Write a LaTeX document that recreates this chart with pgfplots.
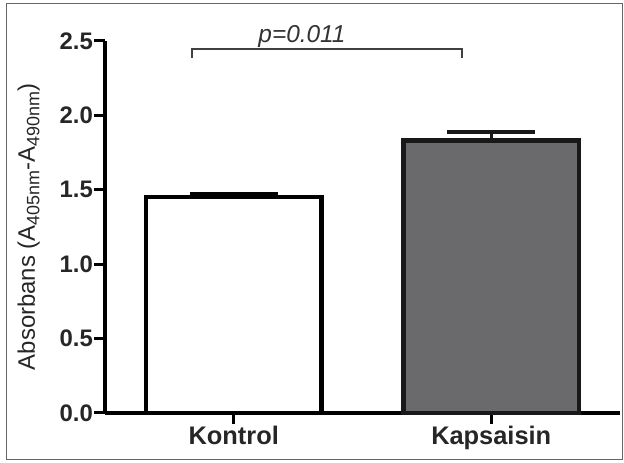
\documentclass[border=0pt]{standalone}
\usepackage{pgfplots}
\pgfplotsset{compat=1.18}
\usepackage{fontspec}
\setmainfont{Liberation Sans}
\definecolor{bargray}{RGB}{106,106,108}
\newcommand{\sub}[1]{\raisebox{-4.5bp}{\fontsize{18}{18}\selectfont #1}}
\begin{document}
\begin{tikzpicture}[x=1bp,y=1bp]
\useasboundingbox (0,0) rectangle (624,463);
\draw[black!60, line width=1bp] (6,3) rectangle (622,459);
\begin{axis}[
  at={(105bp,50bp)}, anchor=south west,
  scale only axis, width=515bp, height=372bp,
  xmin=-0.5, xmax=1.5, ymin=0, ymax=2.5,
  axis lines*=left,
  axis line style={-, line width=3.5bp, black},
  xtick={0,1}, xticklabels={Kontrol,Kapsaisin},
  ytick={0,0.5,1,1.5,2,2.5},
  /pgf/number format/fixed, /pgf/number format/fixed zerofill,
  /pgf/number format/precision=1, /pgf/number format/assume math mode=true,
  tick align=outside, major tick length=11bp,
  tick style={line width=3bp, black},
  x tick label style={font=\fontsize{25.5}{25.5}\selectfont\bfseries, text=black!85, inner sep=2bp},
  y tick label style={font=\fontsize{24}{24}\selectfont\bfseries, text=black!85, inner sep=1bp},
  every axis y label/.style={at={(axis description cs:-0.148,0.5)}, rotate=90, anchor=center},
  ylabel={Absorbans (A\sub{405nm}-A\sub{490nm})},
  ylabel style={font=\fontsize{24}{24}\selectfont, text=black!85},
  clip=false,
]
\addplot[ybar, bar width=0.68, bar shift=0pt, draw=black, line width=4.5bp, fill=white,
  error bars/.cd, y dir=plus, y explicit,
  error bar style={line width=4bp, black},
  error mark options={rotate=90, mark size=44bp, line width=4bp, black}]
  coordinates {(0,1.45) +- (0,0.025)};
\addplot[ybar, bar width=0.68, bar shift=0pt, draw=black!90, line width=4.5bp, fill=bargray,
  error bars/.cd, y dir=plus, y explicit,
  error bar style={line width=3bp, black!90},
  error mark options={rotate=90, mark size=44bp, line width=4bp, black!90}]
  coordinates {(1,1.83) +- (0,0.06)};
\draw[black!75, line width=1.5bp] (axis cs:-0.162,2.386) -- (axis cs:-0.162,2.446) -- (axis cs:0.886,2.446) -- (axis cs:0.886,2.386);
\node[font=\fontsize{24.5}{24.5}\selectfont\itshape, text=black!80, anchor=base, inner sep=0pt] at (axis cs:0.265,2.493) {p=0.011};
\end{axis}
\end{tikzpicture}
\end{document}
